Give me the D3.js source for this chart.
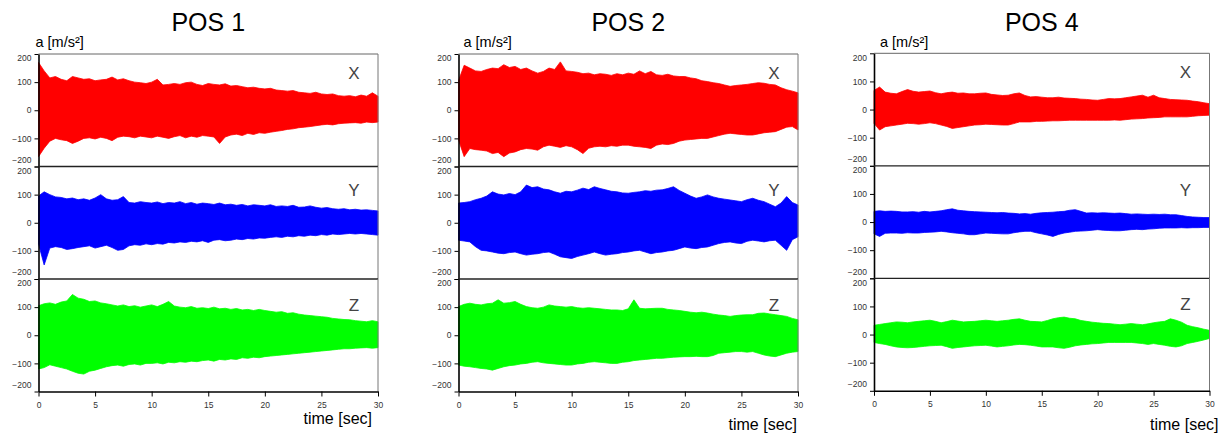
<!DOCTYPE html>
<html>
<head>
<meta charset="utf-8">
<script src="https://cdn.jsdelivr.net/npm/d3@7"></script>
<style>
  body { margin: 0; background: #fff; }
  svg { display: block; font-family: Arial, "Liberation Sans", sans-serif; }
</style>
</head>
<body>
<div id="chart"></div>
<script>
// chart labels
var panelTitles = ["POS 1", "POS 2", "POS 4"];
var axisNames = ["X", "Y", "Z"];
var axisColors = ["#ff0000", "#0000ff", "#00ff00"];
var yTicks = [-200, -100, 0, 100, 200];
var xTicks = [0, 5, 10, 15, 20, 25, 30];

var sampleTimes = d3.range(0, 30.25, 0.5);

var pos1X_hi = [170,140,115,120,110,105,120,115,110,112, 105,108,110,118,108,112,105,100,98,95, 100,110,90,92,95,92,98,100,92,88, 95,92,90,94,86,88,84,80,82,78, 76,78,72,70,68,70,64,62,60,64, 58,56,58,52,50,52,48,54,50,62, 50];
var pos1X_lo = [-165,-135,-110,-100,-105,-108,-118,-110,-100,-98, -102,-96,-100,-108,-96,-92,-94,-98,-92,-95, -98,-92,-96,-100,-94,-90,-98,-92,-96,-90, -92,-95,-118,-95,-88,-85,-90,-82,-86,-80, -82,-78,-75,-72,-68,-66,-62,-60,-58,-55, -52,-50,-52,-48,-46,-45,-44,-46,-42,-44, -42];
var pos1Y_hi = [95,110,100,92,90,85,88,82,85,80, 88,100,85,80,82,93,72,70,75,72, 70,74,68,72,70,75,68,72,66,70, 68,65,70,64,66,62,65,60,64,62, 60,64,58,60,58,62,55,56,60,55, 52,54,50,48,50,46,48,45,46,44, 42];
var pos1Y_lo = [-75,-150,-90,-85,-88,-95,-92,-88,-85,-82, -90,-85,-80,-88,-98,-95,-82,-78,-80,-75, -78,-74,-76,-70,-72,-68,-70,-66,-68,-64, -70,-62,-60,-64,-62,-58,-60,-56,-58,-54, -55,-52,-50,-52,-48,-50,-46,-48,-44,-46, -42,-44,-40,-42,-40,-38,-40,-38,-40,-42, -44];
var pos1Z_hi = [105,112,115,110,118,122,145,132,128,120, 122,115,112,108,104,108,102,105,100,104, 108,102,110,120,104,100,98,102,96,98, 95,100,94,96,92,95,90,92,88,92, 88,85,82,84,78,80,75,72,70,68, 66,64,60,58,56,55,52,50,48,52, 48];
var pos1Z_lo = [-120,-115,-105,-110,-115,-120,-128,-135,-138,-128, -124,-118,-112,-108,-106,-110,-104,-102,-106,-100, -100,-98,-102,-96,-98,-94,-96,-92,-94,-90, -88,-92,-86,-88,-84,-86,-80,-82,-78,-80, -76,-74,-72,-70,-68,-66,-64,-62,-60,-58, -56,-54,-52,-50,-48,-48,-46,-45,-44,-46, -44];

var pos2X_hi = [105,160,150,140,138,145,150,148,162,152, 156,145,150,140,132,138,150,145,172,140, 138,135,130,132,126,130,128,124,130,126, 132,128,140,130,138,126,124,128,122,120, 120,115,112,105,102,98,95,90,85,88, 90,92,95,98,96,92,90,80,73,68, 62];
var pos2X_lo = [-105,-165,-136,-140,-142,-145,-154,-150,-165,-152, -148,-140,-136,-138,-142,-130,-124,-128,-132,-126, -130,-140,-154,-135,-130,-128,-130,-126,-128,-124, -124,-128,-130,-132,-136,-124,-120,-122,-118,-110, -106,-104,-102,-100,-100,-95,-90,-85,-82,-84, -86,-88,-88,-84,-80,-78,-76,-68,-60,-58, -70];
var pos2Y_hi = [70,72,75,82,87,95,110,102,99,104, 100,110,134,125,128,120,117,110,105,112, 110,116,123,118,128,122,117,112,110,106, 105,108,110,114,112,116,117,122,128,115, 105,95,87,92,99,92,87,84,81,78, 75,82,87,80,75,66,57,70,93,72, 63];
var pos2Y_lo = [-62,-65,-68,-85,-98,-100,-104,-108,-110,-106, -104,-110,-115,-112,-110,-106,-104,-112,-121,-124, -127,-120,-115,-110,-104,-110,-115,-112,-110,-106, -104,-100,-98,-104,-110,-106,-104,-100,-98,-92, -86,-90,-92,-88,-86,-80,-74,-70,-68,-72, -74,-66,-62,-65,-68,-64,-62,-80,-98,-60, -50];
var pos2Z_hi = [102,110,114,110,108,112,114,126,114,116, 120,110,102,98,96,100,108,104,102,100, 102,98,96,98,96,94,92,90,90,88, 94,126,96,94,95,96,96,92,90,88, 85,82,80,82,79,75,72,70,67,70, 72,73,73,78,79,76,73,70,67,60, 55];
var pos2Z_lo = [-106,-110,-112,-115,-118,-120,-124,-118,-112,-108, -106,-102,-100,-96,-94,-98,-100,-102,-104,-106, -106,-102,-100,-96,-94,-96,-98,-100,-100,-96, -94,-90,-88,-86,-84,-82,-82,-80,-78,-77, -76,-76,-75,-76,-76,-72,-64,-62,-60,-58, -58,-60,-58,-64,-70,-74,-76,-70,-64,-60, -58];

var pos4X_hi = [68,80,62,58,56,64,71,65,62,64, 66,60,56,60,62,58,59,56,56,58, 59,54,52,50,51,56,59,50,45,46, 44,42,42,44,41,40,39,37,36,34, 33,36,39,38,39,42,45,48,51,44, 51,42,39,36,35,34,33,30,28,24, 21];
var pos4X_lo = [-49,-73,-61,-58,-55,-52,-49,-50,-52,-50, -47,-50,-55,-60,-67,-64,-61,-58,-55,-54, -52,-53,-54,-55,-55,-50,-44,-44,-44,-42, -42,-41,-40,-40,-39,-38,-38,-38,-38,-38, -38,-38,-38,-37,-38,-36,-34,-33,-32,-30, -29,-28,-26,-26,-26,-26,-26,-24,-22,-21, -20];
var pos4Y_hi = [38,40,38,39,38,36,36,37,35,38, 36,38,40,44,47,42,40,38,37,36, 35,34,33,34,32,31,29,30,28,31, 33,34,35,37,38,42,44,38,32,33, 32,33,32,31,32,30,28,29,28,27, 28,27,28,26,26,23,20,18,17,16, 16];
var pos4Y_lo = [-42,-51,-40,-39,-39,-40,-38,-39,-39,-37, -36,-35,-33,-35,-38,-40,-42,-45,-45,-42, -39,-40,-41,-42,-42,-38,-35,-33,-33,-38, -42,-46,-51,-44,-39,-36,-33,-32,-31,-29, -27,-29,-30,-31,-31,-29,-27,-26,-27,-25, -24,-22,-21,-21,-21,-20,-21,-20,-20,-19, -19];
var pos4Z_hi = [33,36,39,42,45,44,42,45,47,49, 51,47,42,46,51,48,45,46,47,49, 51,49,47,49,51,54,56,51,47,46, 45,50,56,60,62,58,56,50,47,44, 42,40,39,37,35,37,39,37,35,38, 42,45,47,56,51,44,33,28,24,19, 15];
var pos4Z_lo = [-28,-32,-35,-40,-44,-46,-47,-46,-44,-42, -40,-39,-38,-43,-49,-46,-44,-42,-40,-39, -38,-41,-44,-42,-40,-37,-35,-36,-38,-41, -44,-44,-44,-47,-49,-45,-40,-37,-35,-33, -32,-30,-28,-28,-28,-28,-28,-30,-32,-35, -32,-35,-38,-42,-44,-40,-32,-28,-24,-19, -14];

var signals = [
  [[pos1X_hi, pos1X_lo], [pos1Y_hi, pos1Y_lo], [pos1Z_hi, pos1Z_lo]],
  [[pos2X_hi, pos2X_lo], [pos2Y_hi, pos2Y_lo], [pos2Z_hi, pos2Z_lo]],
  [[pos4X_hi, pos4X_lo], [pos4Y_hi, pos4Y_lo], [pos4Z_hi, pos4Z_lo]]
];

// layout
var W = 1228, H = 436;
var panelLeft = [38.5, 458.5, 874],
    panelRight = [378, 798, 1209.5],
    panelTop = [54, 54, 53.3],
    rowH = 112.5;
var timeLabelDx = [-6, -1, 9],
    timeLabelY = [424, 430, 430],
    unitLabelDx = [-3, 5, 6];

var svg = d3.select("#chart")
  .append("svg")
    .attr("width", W)
    .attr("height", H);

panelTitles.forEach(function(title, p) {
  var left = panelLeft[p], right = panelRight[p], top = panelTop[p];

  var x = d3.scaleLinear()
      .domain([0, 30])
      .range([left, right]);

  var g = svg.append("g").attr("class", "panel");

  g.append("text")
      .attr("x", (left + right) / 2)
      .attr("y", 31)
      .attr("text-anchor", "middle")
      .attr("font-size", 25)
      .attr("fill", "#000")
      .text(title);

  g.append("text")
      .attr("x", left + unitLabelDx[p])
      .attr("y", 47)
      .attr("font-size", 14.5)
      .attr("fill", "#000")
      .text("a [m/s²]");

  axisNames.forEach(function(name, r) {
    var y = d3.scaleLinear()
        .domain([-200, 200])
        .range([top + (r + 1) * rowH, top + r * rowH]);

    var hi = signals[p][r][0], lo = signals[p][r][1];
    var pts = sampleTimes.map(function(t, i) { return {t: t, hi: hi[i], lo: lo[i]}; });

    var area = d3.area()
        .x(function(d) { return x(d.t); })
        .y0(function(d) { return y(d.lo); })
        .y1(function(d) { return y(d.hi); });

    g.append("path")
        .datum(pts)
        .attr("fill", axisColors[r])
        .attr("stroke", axisColors[r])
        .attr("stroke-width", 0.8)
        .attr("d", area);

    // frame: top line and right border
    g.append("line")
        .attr("x1", left).attr("x2", right)
        .attr("y1", y(200)).attr("y2", y(200))
        .attr("stroke", r === 0 ? "#666" : "#222")
        .attr("stroke-width", r === 0 ? 1 : 1.3);
    g.append("line")
        .attr("x1", right).attr("x2", right)
        .attr("y1", y(200)).attr("y2", y(-200))
        .attr("stroke", "#777")
        .attr("stroke-width", 1);

    var ya = g.append("g")
        .attr("transform", "translate(" + left + ",0)")
        .call(d3.axisLeft(y).tickValues(yTicks).tickSize(4).tickSizeOuter(0).tickPadding(3));
    ya.select(".domain").attr("stroke", "#000").attr("stroke-width", 1.6);
    ya.selectAll(".tick line").attr("stroke", "#000");
    ya.selectAll(".tick text")
        .attr("font-size", 8.5)
        .attr("font-family", "Arial, 'Liberation Sans', sans-serif")
        .attr("fill", "#333")
        .attr("transform", function(d) { return d === 200 ? "translate(0,4)" : d === -200 ? "translate(0,-7)" : null; });

    g.append("text")
        .attr("x", right - 24)
        .attr("y", y(200) + [19, 24, 26][r])
        .attr("dy", "0.35em")
        .attr("text-anchor", "middle")
        .attr("font-size", 17)
        .attr("fill", "#444")
        .text(name);

    if (r === 2) {
      var xa = g.append("g")
          .attr("transform", "translate(0," + y(-200) + ")")
          .call(d3.axisBottom(x).tickValues(xTicks).tickSize(5).tickSizeOuter(0).tickPadding(5));
      xa.select(".domain").attr("stroke", "#000").attr("stroke-width", 1.6);
      xa.selectAll(".tick line").attr("stroke", "#000");
      xa.selectAll(".tick text")
          .attr("font-size", 8.5)
          .attr("font-family", "Arial, 'Liberation Sans', sans-serif")
          .attr("fill", "#333");
    }
  });

  g.append("text")
      .attr("x", right + timeLabelDx[p])
      .attr("y", timeLabelY[p])
      .attr("text-anchor", "end")
      .attr("font-size", 16)
      .attr("fill", "#000")
      .text("time [sec]");
});
</script>
</body>
</html>
